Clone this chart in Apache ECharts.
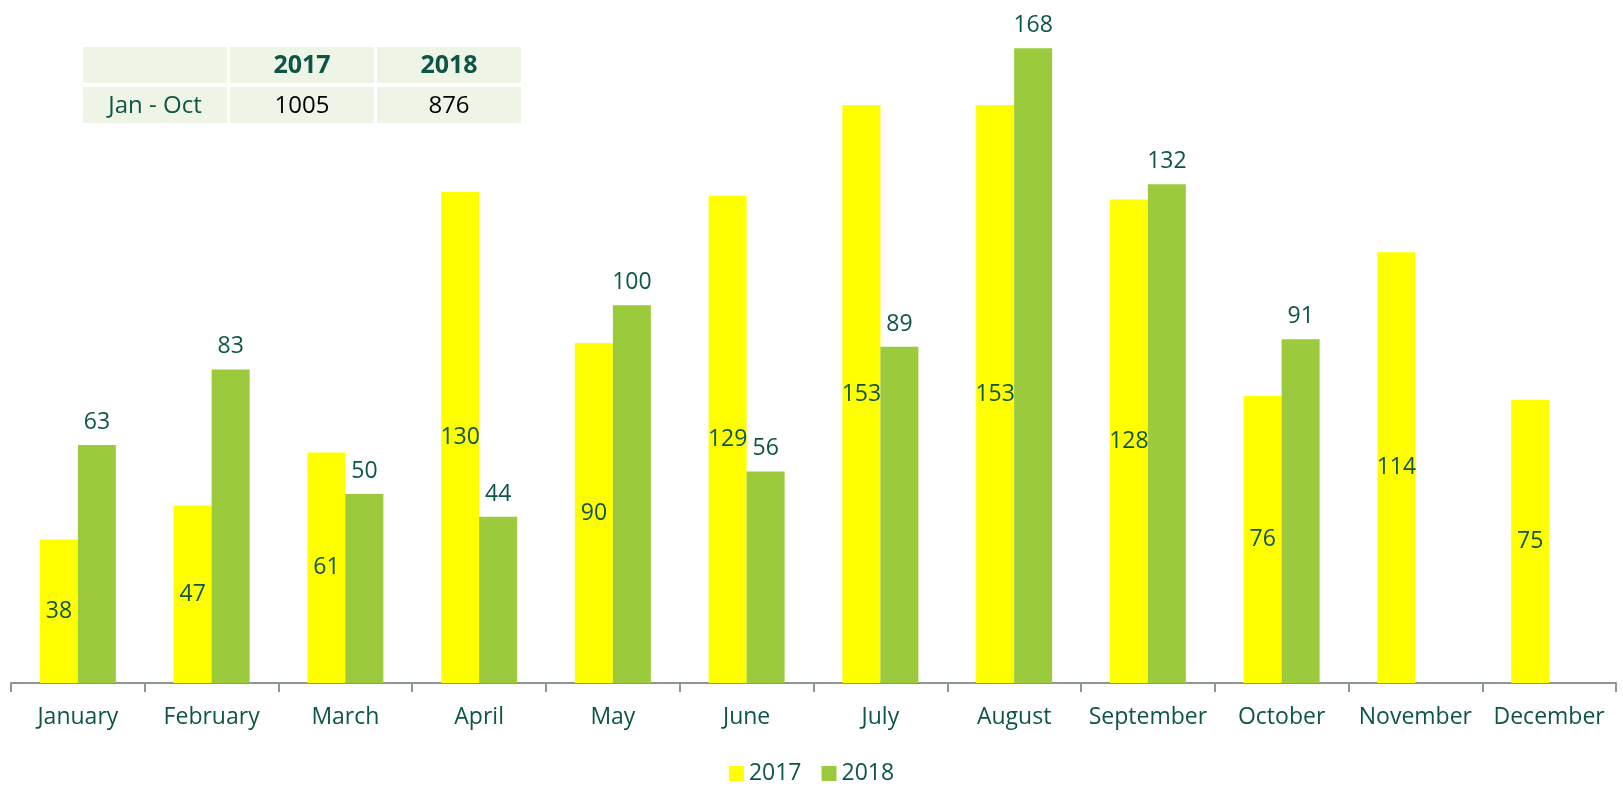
<!DOCTYPE html>
<html>
<head>
<meta charset="utf-8">
<script src="https://cdn.jsdelivr.net/npm/echarts@6/dist/echarts.min.js"></script>
<style>
  html, body { margin: 0; padding: 0; background: #fff; }
  #main { width: 1623px; height: 788px; }
</style>
</head>
<body>
<div id="main"></div>
<script>
var months = ['January', 'February', 'March', 'April', 'May', 'June', 'July', 'August', 'September', 'October', 'November', 'December'];
var values2017 = [38, 47, 61, 130, 90, 129, 153, 153, 128, 76, 114, 75];
var values2018 = [63, 83, 50, 44, 100, 56, 89, 168, 132, 91, null, null];

// little summary table in the top left corner
var tableHead = ['', '2017', '2018'];
var tableRow = ['Jan - Oct', '1005', '876'];

var textColor = '#0d5647';
var font = '"Open Sans", sans-serif';

var cellX = [83, 230, 377];
var cellY = [47, 87];
var cellW = 144, cellH = 36;

var graphics = [];
[tableHead, tableRow].forEach(function (row, r) {
    row.forEach(function (txt, c) {
        graphics.push({
            type: 'rect',
            left: cellX[c], top: cellY[r],
            shape: { width: cellW, height: cellH },
            style: { fill: '#eef4e6' }
        });
        graphics.push({
            type: 'text',
            x: cellX[c] + cellW / 2, y: cellY[r] + cellH / 2 + 1,
            style: {
                text: txt,
                align: 'center', verticalAlign: 'middle',
                font: (r === 0 ? 'bold 25px ' : '24px ') + font,
                fill: (r === 1 && c > 0) ? '#000' : textColor
            }
        });
    });
});

var option = {
    animation: false,
    grid: { left: 11, right: 7, top: 3, bottom: 105 },
    legend: {
        bottom: -2,
        left: 'center',
        itemWidth: 15,
        itemHeight: 15,
        itemGap: 20,
        icon: 'rect',
        textStyle: { color: textColor, fontSize: 23, fontFamily: font },
        data: ['2017', '2018']
    },
    xAxis: {
        type: 'category',
        data: months,
        axisLine: { show: true, lineStyle: { color: '#8c9694', width: 2 } },
        axisTick: { show: true, interval: 0, length: 9, lineStyle: { color: '#8c9694', width: 2 } },
        axisLabel: { interval: 0, color: textColor, fontSize: 23, fontFamily: font, margin: 23 }
    },
    yAxis: {
        type: 'value',
        min: 0, max: 180,
        show: false,
        splitLine: { show: false }
    },
    series: [
        {
            name: '2017',
            type: 'bar',
            data: values2017,
            barWidth: 38,
            barGap: '0%',
            itemStyle: { color: '#ffff00' },
            label: { show: true, position: 'inside', color: textColor, fontSize: 23, fontFamily: font }
        },
        {
            name: '2018',
            type: 'bar',
            data: values2018,
            barWidth: 38,
            itemStyle: { color: '#9bcb3c' },
            label: { show: true, position: 'top', distance: 11, color: textColor, fontSize: 23, fontFamily: font }
        }
    ],
    graphic: graphics
};

var mychart = echarts.init(document.getElementById('main'));
mychart.setOption(option);
</script>
</body>
</html>
